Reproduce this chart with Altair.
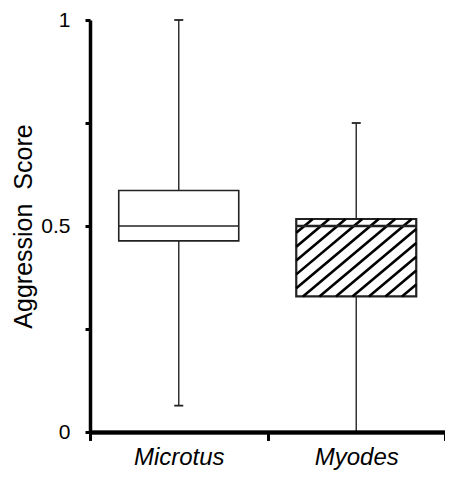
import altair as alt
import numpy as np
import pandas as pd

# ---- data ----
species = ["Microtus", "Myodes"]
whisker_low = [0.064, 0.0]
q1 = [0.464, 0.329]
median = [0.5, 0.5]
q3 = [0.586, 0.517]
whisker_high = [1.0, 0.75]
hatched = [False, True]

y_ticks = [0, 0.25, 0.5, 0.75, 1]
y_labels = ["0", "", "0.5", "", "1"]

# ---- layout / style constants ----
W, H = 355, 412
BOX_PX = 120
CAP_PX = 9
HATCH_GAP_PX = 16.5
HATCH_ANGLE = 40
FONT = "Liberation Sans"

n = len(species)
xs = [i + 0.5 for i in range(n)]
ux = W / n
uy = H
box_half = BOX_PX / 2 / ux
cap_half = CAP_PX / 2 / ux

df = pd.DataFrame({
    "species": species, "xc": xs, "lo": whisker_low, "q1": q1,
    "med": median, "q3": q3, "hi": whisker_high, "hatched": hatched,
})
df["x0"] = df["xc"] - box_half
df["x1"] = df["xc"] + box_half

caps = pd.DataFrame({
    "xa": [x - cap_half for x in xs for _ in (0, 1)],
    "xb": [x + cap_half for x in xs for _ in (0, 1)],
    "y": [v for pair in zip(whisker_low, whisker_high) for v in pair],
})

# hatch segments derived from the hatched boxes
m = np.tan(np.radians(HATCH_ANGLE))
segs = []
for i in range(n):
    if not hatched[i]:
        continue
    X0 = (xs[i] - box_half) * ux
    X1 = (xs[i] + box_half) * ux
    Yb = q1[i] * uy
    Hb = q3[i] * uy - Yb
    c = X0 - Hb / m
    while c < X1:
        lo_ = max(0.0, m * (X0 - c))
        hi_ = min(Hb, m * (X1 - c))
        if hi_ > lo_:
            segs.append({
                "xa": (c + lo_ / m) / ux, "ya": (Yb + lo_) / uy,
                "xb": (c + hi_ / m) / ux, "yb": (Yb + hi_) / uy,
            })
        c += HATCH_GAP_PX
hatch = pd.DataFrame(segs)

label_expr = " : ".join(
    [f"datum.value == {v} ? '{l}'" for v, l in zip(y_ticks, y_labels)] + ["''"]
)
cat_expr = " : ".join(
    [f"datum.value == {x} ? '{s}'" for x, s in zip(xs, species)] + ["''"]
)

xscale = alt.Scale(domain=[0, n], nice=False, zero=False)
yscale = alt.Scale(domain=[0, 1], nice=False)

axis_x_ticks = alt.Axis(
    orient="bottom", values=list(range(n + 1)), labels=False, title=None,
    domainColor="black", domainWidth=3.5, tickColor="black", tickWidth=3,
    tickSize=8, grid=False, zindex=1,
)
axis_x_labels = alt.Axis(
    orient="bottom", values=xs, labelExpr=cat_expr, title=None, domain=False,
    ticks=False, grid=False, labelFont=FONT, labelFontSize=24,
    labelFontStyle="italic", labelColor="black", labelPadding=13,
)
axis_y = alt.Axis(
    values=y_ticks, labelExpr=label_expr, title="Aggression\u00a0\u00a0Score",
    domainColor="black", domainWidth=3.5, tickColor="black", tickWidth=3,
    tickSize=5, labelFont=FONT, labelFontSize=21, labelColor="black",
    labelPadding=15, titleFont=FONT, titleFontSize=25, titleFontWeight="normal",
    titleColor="black", titlePadding=4, grid=False, zindex=1,
)

base = alt.Chart(df)

whisk = base.mark_rule(color="#333333", strokeWidth=1.5).encode(
    x=alt.X("xc:Q", scale=xscale, axis=axis_x_labels),
    y=alt.Y("lo:Q", scale=yscale, axis=axis_y),
    y2="hi:Q",
)

boxes = base.mark_bar(fill="white", stroke="#222222").encode(
    x=alt.X("x0:Q", scale=xscale, axis=axis_x_ticks),
    x2="x1:Q",
    y=alt.Y("q1:Q", scale=yscale, axis=axis_y),
    y2="q3:Q",
    strokeWidth=alt.condition("datum.hatched", alt.value(2.2), alt.value(1.6)),
)

hatch_layer = alt.Chart(hatch).mark_rule(color="black", strokeWidth=2.6).encode(
    x=alt.X("xa:Q", scale=xscale, axis=axis_x_ticks),
    x2="xb:Q",
    y=alt.Y("ya:Q", scale=yscale, axis=axis_y),
    y2="yb:Q",
)

meds = base.mark_rule(color="#222222").encode(
    x=alt.X("x0:Q", scale=xscale, axis=axis_x_ticks),
    x2="x1:Q",
    y=alt.Y("med:Q", scale=yscale, axis=axis_y),
    strokeWidth=alt.condition("datum.hatched", alt.value(2.5), alt.value(1.5)),
)

cap_layer = alt.Chart(caps).mark_rule(color="#222222", strokeWidth=1.8).encode(
    x=alt.X("xa:Q", scale=xscale, axis=axis_x_ticks),
    x2="xb:Q",
    y=alt.Y("y:Q", scale=yscale, axis=axis_y),
)

chart = (
    alt.layer(whisk, boxes, hatch_layer, meds, cap_layer)
    .resolve_axis(x="independent")
    .properties(
        width=W, height=H,
        autosize=alt.AutoSizeParams(type="none"),
        padding={"left": 82, "top": 12, "right": 0, "bottom": 42},
        background="white",
    )
    .configure_view(stroke=None)
)

chart.save("out.html", embed_options={"renderer": "svg", "actions": False})
